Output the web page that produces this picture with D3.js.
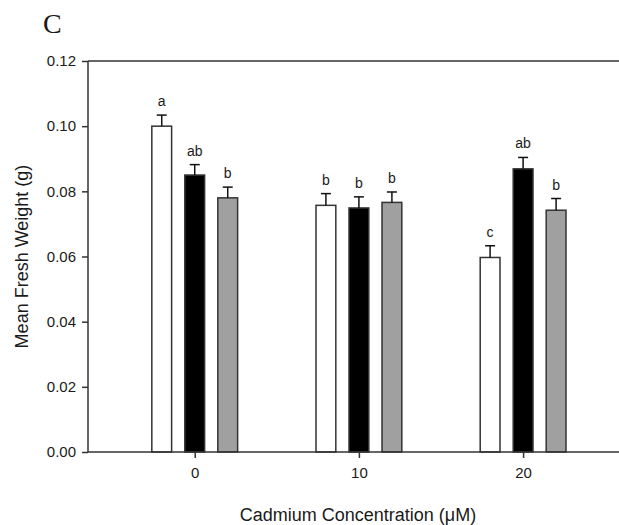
<!DOCTYPE html>
<html>
<head>
<meta charset="utf-8">
<script src="https://cdn.jsdelivr.net/npm/d3@7"></script>
<style>
  body { margin: 0; background: #fff; }
  text { font-family: "Liberation Sans", Arial, sans-serif; fill: #1a1a1a; }
</style>
</head>
<body>
<div id="chart"></div>
<script>
// cadmium concentrations (uM) and the three treatment series
const concentrations = [0, 10, 20];
const seriesNames = ["white", "black", "gray"];
const whiteMeans = [0.100, 0.0757, 0.0597];
const whiteErr = [0.0034, 0.0036, 0.0036];
const whiteLetters = ["a", "b", "c"];
const blackMeans = [0.085, 0.0749, 0.0869];
const blackErr = [0.0032, 0.0034, 0.0035];
const blackLetters = ["ab", "b", "ab"];
const grayMeans = [0.078, 0.0766, 0.0742];
const grayErr = [0.0033, 0.0032, 0.0036];
const grayLetters = ["b", "b", "b"];
const yTicks = [0, 0.02, 0.04, 0.06, 0.08, 0.10, 0.12];

const width = 619, height = 525;
const fills = { white: "#ffffff", black: "#000000", gray: "#a0a0a0" };

const series = [
  { name: "white", means: whiteMeans, err: whiteErr, letters: whiteLetters },
  { name: "black", means: blackMeans, err: blackErr, letters: blackLetters },
  { name: "gray", means: grayMeans, err: grayErr, letters: grayLetters }
];

// flatten to one record per bar
const bars = [];
series.forEach(s => {
  concentrations.forEach((c, i) => {
    bars.push({ series: s.name, conc: c, mean: s.means[i], err: s.err[i], letter: s.letters[i] });
  });
});

const svg = d3.select("#chart").append("svg")
  .attr("width", width)
  .attr("height", height);

// scales
const x = d3.scaleLinear().domain([-6.5, 26.45]).range([88, 629]);
const y = d3.scaleLinear().domain([0, 0.12]).range([452, 61]);
const inner = d3.scaleBand().domain(seriesNames).range([-49.5, 49.5])
  .paddingInner(0.4).paddingOuter(0.2);

// frame top line
svg.append("line")
  .attr("x1", 88).attr("x2", 629)
  .attr("y1", y(0.12)).attr("y2", y(0.12))
  .attr("stroke", "#333").attr("stroke-width", 1.5);

// Bars
svg.append("g").selectAll("rect").data(bars).join("rect")
  .attr("x", d => x(d.conc) + inner(d.series))
  .attr("y", d => y(d.mean))
  .attr("width", inner.bandwidth())
  .attr("height", d => y(0) - y(d.mean))
  .attr("fill", d => fills[d.series])
  .attr("stroke", "#333")
  .attr("stroke-width", 1.5);

// Error bars (upper only)
const eb = svg.append("g").attr("stroke", "#111").attr("stroke-width", 1.5);
eb.selectAll("line.v").data(bars).join("line").attr("class", "v")
  .attr("x1", d => x(d.conc) + inner(d.series) + inner.bandwidth() / 2)
  .attr("x2", d => x(d.conc) + inner(d.series) + inner.bandwidth() / 2)
  .attr("y1", d => y(d.mean))
  .attr("y2", d => y(d.mean + d.err));
eb.selectAll("line.cap").data(bars).join("line").attr("class", "cap")
  .attr("x1", d => x(d.conc) + inner(d.series) + inner.bandwidth() / 2 - 5)
  .attr("x2", d => x(d.conc) + inner(d.series) + inner.bandwidth() / 2 + 5)
  .attr("y1", d => y(d.mean + d.err))
  .attr("y2", d => y(d.mean + d.err));

// significance letters
svg.append("g").selectAll("text").data(bars).join("text")
  .attr("x", d => x(d.conc) + inner(d.series) + inner.bandwidth() / 2)
  .attr("y", d => y(d.mean + d.err) - 9)
  .attr("text-anchor", "middle")
  .attr("font-size", 14)
  .text(d => d.letter);

// Axes
const yAxis = svg.append("g")
  .attr("transform", "translate(88,0)")
  .call(d3.axisLeft(y).tickValues(yTicks).tickFormat(d3.format(".2f")).tickSize(6).tickPadding(6));
const xAxis = svg.append("g")
  .attr("transform", `translate(0,${y(0)})`)
  .call(d3.axisBottom(x).tickValues(concentrations).tickFormat(d3.format("d")).tickSize(6).tickPadding(9));
[yAxis, xAxis].forEach(a => {
  a.select(".domain").attr("stroke", "#333").attr("stroke-width", 1.5);
  a.selectAll(".tick line").attr("stroke", "#333").attr("stroke-width", 1.5);
  a.selectAll(".tick text").attr("font-size", 15).attr("font-family", "'Liberation Sans', Arial, sans-serif").attr("fill", "#1a1a1a");
});
xAxis.select(".domain").attr("d", `M88,0H629`);
yAxis.select(".domain").attr("d", `M0,${y(0.12)}V${y(0)}`);

// Titles
svg.append("text")
  .attr("x", 358).attr("y", 521)
  .attr("text-anchor", "middle")
  .attr("font-size", 18)
  .text("Cadmium Concentration (\u03bcM)");

svg.append("text")
  .attr("transform", `translate(28,${(y(0) + y(0.12)) / 2}) rotate(-90)`)
  .attr("text-anchor", "middle")
  .attr("font-size", 18)
  .text("Mean Fresh Weight (g)");

// panel letter
svg.append("text")
  .attr("x", 43).attr("y", 33)
  .attr("font-family", "'Liberation Serif', 'Times New Roman', serif")
  .attr("font-size", 28)
  .style("font-family", "'Liberation Serif', 'Times New Roman', serif")
  .text("C");
</script>
</body>
</html>
